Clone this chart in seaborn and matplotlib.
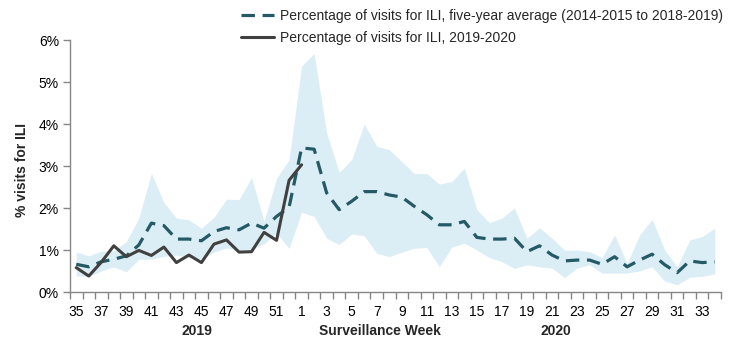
import numpy as np
import pandas as pd
import matplotlib
matplotlib.use("Agg")
import matplotlib.pyplot as plt
import seaborn as sns

weeks = [35, 36, 37, 38, 39, 40, 41, 42, 43, 44, 45, 46, 47, 48, 49, 50, 51, 52,
         1, 2, 3, 4, 5, 6, 7, 8, 9, 10, 11, 12, 13, 14, 15, 16, 17, 18, 19, 20,
         21, 22, 23, 24, 25, 26, 27, 28, 29, 30, 31, 32, 33, 34]

avg_5yr = [0.66, 0.60, 0.72, 0.78, 0.86, 1.12, 1.64, 1.58, 1.26, 1.26, 1.22, 1.44,
           1.53, 1.48, 1.64, 1.52, 1.80, 2.02, 3.43, 3.40, 2.36, 1.96, 2.16, 2.39,
           2.39, 2.31, 2.26, 2.04, 1.84, 1.60, 1.60, 1.68, 1.30, 1.26, 1.26, 1.28,
           0.96, 1.10, 0.88, 0.74, 0.76, 0.76, 0.66, 0.84, 0.60, 0.76, 0.90, 0.65,
           0.46, 0.74, 0.70, 0.72]

band_low = [0.38, 0.37, 0.50, 0.60, 0.48, 0.78, 0.78, 0.85, 0.88, 0.82, 0.78, 0.95,
            1.05, 1.00, 1.02, 1.15, 1.40, 1.04, 1.90, 1.80, 1.28, 1.13, 1.38, 1.34,
            0.92, 0.84, 0.95, 1.04, 1.06, 0.60, 1.07, 1.16, 1.00, 0.82, 0.72, 0.56,
            0.65, 0.60, 0.57, 0.34, 0.57, 0.65, 0.45, 0.45, 0.45, 0.50, 0.60, 0.26,
            0.17, 0.35, 0.37, 0.43]

band_high = [0.95, 0.86, 0.97, 0.98, 1.20, 1.76, 2.83, 2.13, 1.76, 1.72, 1.52, 1.78,
             2.21, 2.20, 2.73, 1.68, 2.71, 3.15, 5.38, 5.68, 3.79, 2.85, 3.15, 4.00,
             3.47, 3.39, 3.11, 2.82, 2.82, 2.57, 2.63, 2.95, 1.96, 1.65, 1.76, 2.00,
             1.28, 1.53, 1.28, 1.00, 1.00, 0.96, 0.82, 1.36, 0.68, 1.36, 1.73, 1.00,
             0.60, 1.24, 1.32, 1.52]

current = [0.58, 0.38, 0.71, 1.10, 0.84, 0.99, 0.87, 1.07, 0.70, 0.88, 0.70, 1.14,
           1.24, 0.95, 0.96, 1.42, 1.23, 2.66, 3.03]

label_avg = "Percentage of visits for ILI, five-year average (2014-2015 to 2018-2019)"
label_cur = "Percentage of visits for ILI, 2019-2020"
ytick_labels = ["0%", "1%", "2%", "3%", "4%", "5%", "6%"]

sns.set_theme(style="white")
plt.rcParams["font.family"] = ["Liberation Sans", "DejaVu Sans"]

FS = 10
W, H = 739, 342
fig = plt.figure(figsize=(W / 100, H / 100), dpi=100)
ax = fig.add_axes([70 / W, 1 - 292 / H, (721 - 70) / W, (292 - 40) / H])

idx = np.arange(len(weeks))
df_avg = pd.DataFrame({"i": idx, "v": avg_5yr})
df_cur = pd.DataFrame({"i": idx[:len(current)], "v": current})

ax.fill_between(idx, band_low, band_high, color="#DCEEF5", linewidth=0, zorder=1)

sns.lineplot(data=df_avg, x="i", y="v", ax=ax, color="#245A66", linewidth=2.3,
             label=label_avg, zorder=3)
ax.lines[-1].set_dashes((4.2, 2.4))
sns.lineplot(data=df_cur, x="i", y="v", ax=ax, color="#404040", linewidth=2.2,
             label=label_cur, zorder=4)

axis_col = "#868686"
ax.set_xlim(-0.5, len(weeks) - 0.5)
ax.set_ylim(0, 6)
ax.set_yticks(range(7))
ax.set_yticklabels(ytick_labels)
ax.set_xticks(idx[::2])
ax.set_xticklabels([str(w) for w in weeks[::2]])
ax.set_xticks(np.arange(-0.5, len(weeks)), minor=True)
ax.tick_params(axis="x", which="major", length=0, pad=9, labelsize=FS, colors="#000000")
ax.tick_params(axis="x", which="minor", length=5, width=1, color=axis_col, direction="out")
ax.tick_params(axis="y", which="major", length=5, width=1, color=axis_col,
               direction="out", pad=3, labelsize=FS, labelcolor="#000000")
ax.tick_params(bottom=True, left=True, which="both")
for s in ["top", "right"]:
    ax.spines[s].set_visible(False)
for s in ["left", "bottom"]:
    ax.spines[s].set_color(axis_col)
    ax.spines[s].set_linewidth(1)
ax.set_xlabel("")
ax.set_ylabel("")
ax.grid(False)

ax.legend_.remove()
handles, labels = ax.get_legend_handles_labels()
fig.legend(handles, labels, loc="upper left", bbox_to_anchor=(241 / W, 1 - 9 / H),
           frameon=False, fontsize=FS, handlelength=2.4, handletextpad=0.4,
           labelspacing=0.6, borderaxespad=0, borderpad=0)

fig.text(22 / W, 1 - 170 / H, "% visits for ILI", rotation=90, ha="center",
         va="center", fontsize=FS, fontweight="bold")
fig.text(197 / W, 1 - 331 / H, "2019", ha="center", va="center", fontsize=FS,
         fontweight="bold")
fig.text(380 / W, 1 - 331 / H, "Surveillance Week", ha="center", va="center",
         fontsize=FS, fontweight="bold")
fig.text(556 / W, 1 - 331 / H, "2020", ha="center", va="center", fontsize=FS,
         fontweight="bold")

fig.savefig("out.png", dpi=100)
